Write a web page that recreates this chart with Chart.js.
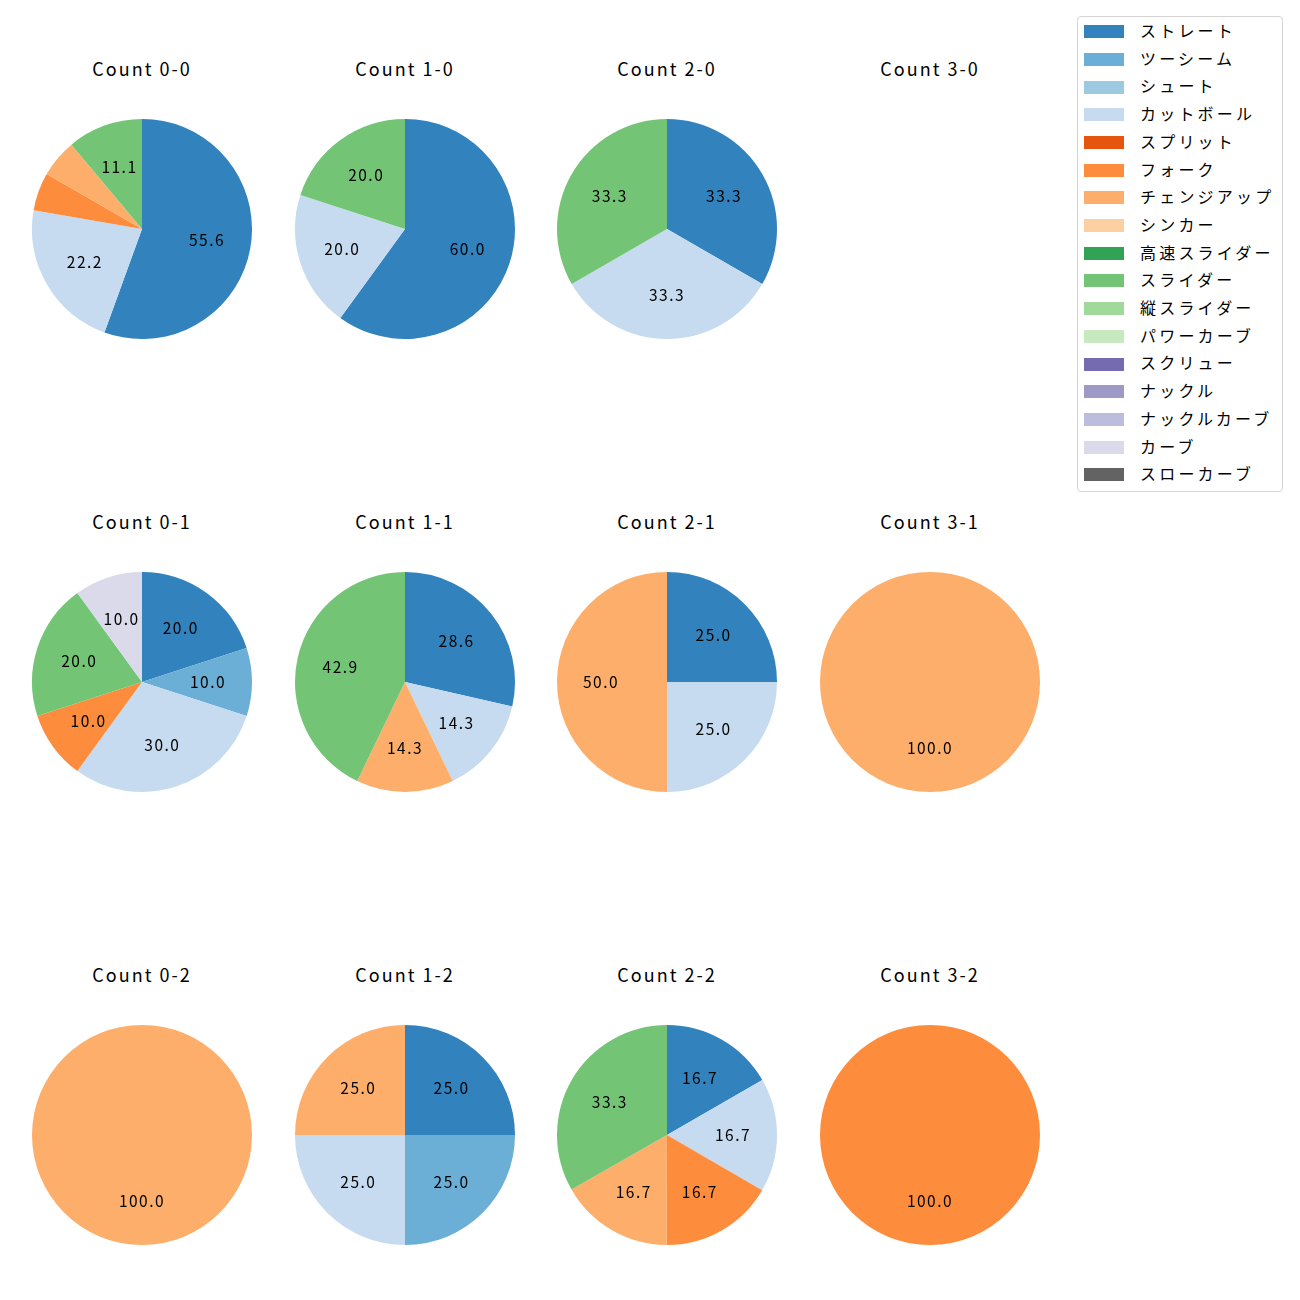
<!DOCTYPE html>
<html lang="ja">
<head>
<meta charset="UTF-8">
<title>Count pies</title>
<script src="https://cdn.jsdelivr.net/npm/chart.js"></script>
<style>
  body { margin: 0; background: #fff; font-family: "Noto Sans CJK JP", "Noto Sans", sans-serif; }
  #page { position: relative; width: 1300px; height: 1300px; }
  .pie { position: absolute; }
  .ttl { position: absolute; width: 200px; text-align: center; font-size: 18px; letter-spacing: 2px; color: #000; line-height: 20px; }
  #legend { position: absolute; left: 1077px; top: 16px; width: 206px; height: 476px;
            border: 1px solid #d5d5d5; border-radius: 4px; box-sizing: border-box; }
  .li { position: absolute; left: 6px; height: 20px; font-size: 16px; letter-spacing: 3.2px; line-height: 20px; color: #000; white-space: nowrap; }
  .li span { display: inline-block; width: 40px; height: 13px; vertical-align: middle; margin-right: 16px; position: relative; top: -1px; }
</style>
</head>
<body>
<div id="page"></div>
<script>
// pitch types and tab20c colours
const pitchTypes = ['ストレート','ツーシーム','シュート','カットボール','スプリット','フォーク','チェンジアップ','シンカー',
  '高速スライダー','スライダー','縦スライダー','パワーカーブ','スクリュー','ナックル','ナックルカーブ','カーブ','スローカーブ'];
const colors = ['#3182bd','#6baed6','#9ecae1','#c6dbef','#e6550d','#fd8d3c','#fdae6b','#fdd0a2',
  '#31a354','#74c476','#a1d99b','#c7e9c0','#756bb1','#9e9ac8','#bcbddc','#dadaeb','#636363'];

// percentages per count, in pitchTypes order
const c00 = [55.6,0,0,22.2,0,5.6,5.6,0,0,11.1,0,0,0,0,0,0,0];
const c10 = [60.0,0,0,20.0,0,0,0,0,0,20.0,0,0,0,0,0,0,0];
const c20 = [33.3,0,0,33.3,0,0,0,0,0,33.3,0,0,0,0,0,0,0];
const c30 = [0,0,0,0,0,0,0,0,0,0,0,0,0,0,0,0,0];
const c01 = [20.0,10.0,0,30.0,0,10.0,0,0,0,20.0,0,0,0,0,0,10.0,0];
const c11 = [28.6,0,0,14.3,0,0,14.3,0,0,42.9,0,0,0,0,0,0,0];
const c21 = [25.0,0,0,25.0,0,0,50.0,0,0,0,0,0,0,0,0,0,0];
const c31 = [0,0,0,0,0,0,100.0,0,0,0,0,0,0,0,0,0,0];
const c02 = [0,0,0,0,0,0,100.0,0,0,0,0,0,0,0,0,0,0];
const c12 = [25.0,25.0,0,25.0,0,0,25.0,0,0,0,0,0,0,0,0,0,0];
const c22 = [16.7,0,0,16.7,0,16.7,16.7,0,0,33.3,0,0,0,0,0,0,0];
const c32 = [0,0,0,0,0,100.0,0,0,0,0,0,0,0,0,0,0,0];

const titles = ['Count 0-0','Count 1-0','Count 2-0','Count 3-0',
                'Count 0-1','Count 1-1','Count 2-1','Count 3-1',
                'Count 0-2','Count 1-2','Count 2-2','Count 3-2'];
const series = [c00,c10,c20,c30,c01,c11,c21,c31,c02,c12,c22,c32];

const colX = [142, 405, 667, 930];
const rowY = [229, 682, 1135];

const page = document.getElementById('page');

// percent labels at 0.6 radius, like autopct
const pctLabels = {
  id: 'pctLabels',
  afterDatasetsDraw(chart) {
    const ctx = chart.ctx;
    const vals = chart.data.datasets[0].data;
    ctx.save();
    ctx.font = '15.5px "Noto Sans CJK JP", "Noto Sans", sans-serif';
    ctx.letterSpacing = '1.5px';
    ctx.fillStyle = '#000';
    ctx.textAlign = 'center';
    ctx.textBaseline = 'middle';
    chart.getDatasetMeta(0).data.forEach((arc, i) => {
      if (vals[i] < 8) return;
      const p = arc.getProps(['x','y','startAngle','endAngle','outerRadius'], true);
      const mid = (p.startAngle + p.endAngle) / 2;
      const r = p.outerRadius * 0.6;
      ctx.fillText(vals[i].toFixed(1), p.x + Math.cos(mid) * r, p.y + Math.sin(mid) * r);
    });
    ctx.restore();
  }
};

series.forEach((vals, k) => {
  const cx = colX[k % 4], cy = rowY[Math.floor(k / 4)];
  const t = document.createElement('div');
  t.className = 'ttl';
  t.style.left = (cx - 100) + 'px';
  t.style.top = (cy - 171) + 'px';
  t.textContent = titles[k];
  page.appendChild(t);

  const cv = document.createElement('canvas');
  cv.className = 'pie';
  cv.width = 240; cv.height = 240;
  cv.style.left = (cx - 120) + 'px';
  cv.style.top = (cy - 120) + 'px';
  page.appendChild(cv);

  new Chart(cv, {
    type: 'pie',
    data: {
      labels: pitchTypes,
      datasets: [{ data: vals, backgroundColor: colors, borderWidth: 0 }]
    },
    options: {
      responsive: false,
      animation: false,
      layout: { padding: 10 },
      plugins: { legend: { display: false }, tooltip: { enabled: false } }
    },
    plugins: [pctLabels]
  });
});

// legend
const lg = document.createElement('div');
lg.id = 'legend';
page.appendChild(lg);
pitchTypes.forEach((name, i) => {
  const d = document.createElement('div');
  d.className = 'li';
  d.style.top = (3 + i * 27.7) + 'px';
  const sw = document.createElement('span');
  sw.style.background = colors[i];
  d.appendChild(sw);
  d.appendChild(document.createTextNode(name));
  lg.appendChild(d);
});
</script>
</body>
</html>
